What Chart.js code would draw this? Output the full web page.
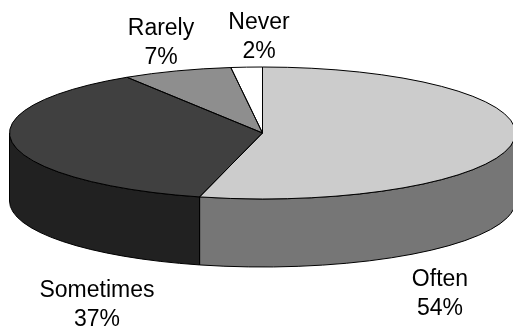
<!DOCTYPE html>
<html>
<head>
<meta charset="utf-8">
<script src="https://cdn.jsdelivr.net/npm/chart.js@4/dist/chart.umd.min.js"></script>
<style>
  html, body { margin: 0; padding: 0; background: #ffffff; }
  #wrap { width: 513px; height: 328px; }
</style>
</head>
<body>
<div id="wrap"><canvas id="c" width="513" height="328"></canvas></div>
<script>
// Survey answers and their shares (percent)
const categories = ['Often', 'Sometimes', 'Rarely', 'Never'];
const shares = [54, 37, 7, 2];

// Face colours (top) and wall colours (side) of each slice
const topColors = ['#cccccc', '#404040', '#8e8e8e', '#ffffff'];
const sideColors = ['#767676', '#212121', '#5e5e5e', '#bbbbbb'];

// Geometry of the tilted disc
const DISC = { cx: 262.5, cy: 133, rx: 253, ry: 66, depth: 68 };

// Where each category's caption sits (centre of the two-line block)
const captionAt = {
  Often: [440, 292],
  Sometimes: [97, 303],
  Rarely: [161, 41],
  Never: [259, 35]
};

const TWO_PI = Math.PI * 2;

function ellipsePt(a, dy) {
  return [DISC.cx + DISC.rx * Math.cos(a), DISC.cy + dy + DISC.ry * Math.sin(a)];
}

const disc3d = {
  id: 'disc3d',
  beforeDatasetsDraw(chart) {
    const ctx = chart.ctx;
    const arcs = chart.getDatasetMeta(0).data;
    // side walls: only the front half (angles 0..PI) faces the viewer
    ctx.save();
    ctx.lineWidth = 1;
    ctx.strokeStyle = '#000000';
    ctx.lineJoin = 'round';
    arcs.forEach((arc, i) => {
      for (let k = -1; k <= 1; k++) {
        const s = arc.startAngle + k * TWO_PI;
        const e = arc.endAngle + k * TWO_PI;
        const a = Math.max(s, 0);
        const b = Math.min(e, Math.PI);
        if (b - a <= 1e-6) continue;
        const pb = ellipsePt(b, DISC.depth);
        ctx.beginPath();
        ctx.ellipse(DISC.cx, DISC.cy, DISC.rx, DISC.ry, 0, a, b);
        ctx.lineTo(pb[0], pb[1]);
        ctx.ellipse(DISC.cx, DISC.cy + DISC.depth, DISC.rx, DISC.ry, 0, b, a, true);
        ctx.closePath();
        ctx.fillStyle = sideColors[i];
        ctx.fill();
        ctx.stroke();
      }
    });
    ctx.restore();

    // squash the library's round pie onto the tilted top face
    const ref = arcs[0];
    ctx.save();
    ctx.translate(DISC.cx, DISC.cy);
    ctx.scale(DISC.rx / ref.outerRadius, DISC.ry / ref.outerRadius);
    ctx.translate(-ref.x, -ref.y);
  },
  afterDatasetsDraw(chart) {
    const ctx = chart.ctx;
    ctx.restore();
    const arcs = chart.getDatasetMeta(0).data;
    // outline of every top face
    ctx.save();
    ctx.lineWidth = 1;
    ctx.strokeStyle = '#000000';
    ctx.lineJoin = 'round';
    arcs.forEach((arc) => {
      ctx.beginPath();
      ctx.moveTo(DISC.cx, DISC.cy);
      ctx.ellipse(DISC.cx, DISC.cy, DISC.rx, DISC.ry, 0, arc.startAngle, arc.endAngle);
      ctx.closePath();
      ctx.stroke();
    });
    ctx.restore();
  },
  afterDraw(chart) {
    const ctx = chart.ctx;
    const total = shares.reduce((t, v) => t + v, 0);
    ctx.save();
    ctx.fillStyle = '#000000';
    ctx.font = '23px "Liberation Sans", Arial, sans-serif';
    ctx.textAlign = 'center';
    ctx.textBaseline = 'alphabetic';
    categories.forEach((name, i) => {
      const [x, y] = captionAt[name];
      const pct = Math.round(shares[i] / total * 100) + '%';
      ctx.fillText(name, x, y - 6);
      ctx.fillText(pct, x, y + 23);
    });
    ctx.restore();
  }
};

new Chart(document.getElementById('c'), {
  type: 'pie',
  data: {
    labels: categories,
    datasets: [{
      data: shares,
      backgroundColor: topColors,
      borderWidth: 0,
      clip: false
    }]
  },
  options: {
    responsive: false,
    animation: false,
    events: [],
    layout: { padding: 0 },
    plugins: {
      legend: { display: false },
      tooltip: { enabled: false }
    }
  },
  plugins: [disc3d]
});
</script>
</body>
</html>
